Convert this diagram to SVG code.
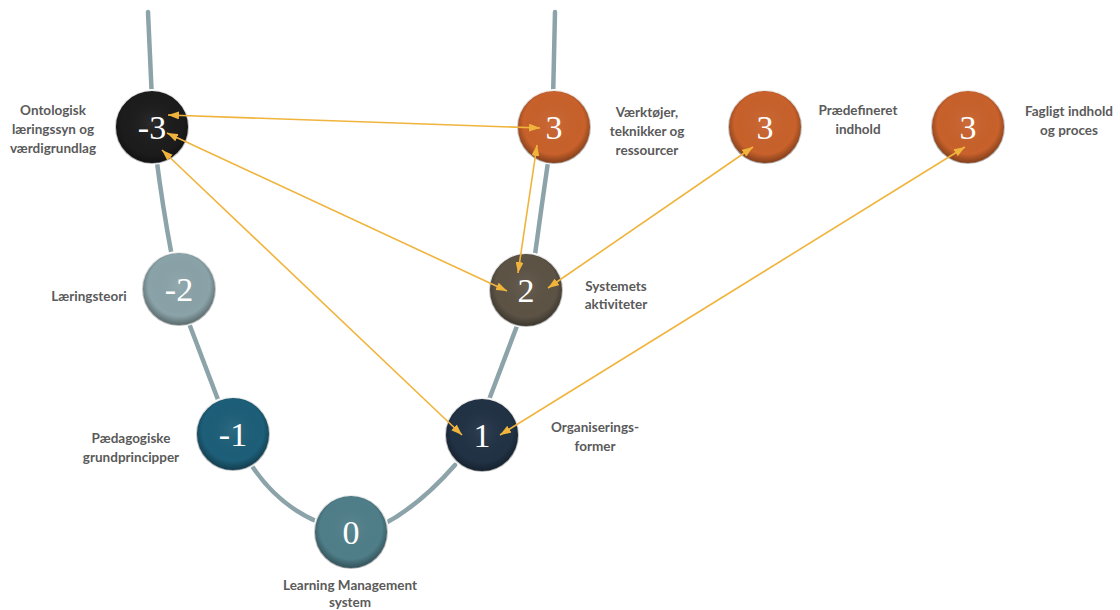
<svg xmlns="http://www.w3.org/2000/svg" width="1120" height="610" viewBox="0 0 1120 610">
<style>
.track{fill:none;stroke:#8ca3a9;stroke-width:4.5;stroke-linecap:round}
.node{stroke:#ffffff;stroke-width:2}
.shade{fill:url(#shade)}
.num{font-family:"Liberation Serif","Times New Roman",serif;font-size:34px;fill:#ffffff;text-anchor:middle}
.lbl{font-family:Lato,"Liberation Sans",sans-serif;font-weight:700;font-size:13.5px;fill:#5a5a5a;text-anchor:middle}
.con{fill:none;stroke:#f0b43c;stroke-width:1.6;marker-start:url(#ah);marker-end:url(#ah)}
</style>
<defs>
<radialGradient id="shade" cx="50%" cy="45%" r="52%">
<stop offset="0" stop-color="#ffffff" stop-opacity="0.07"/>
<stop offset="0.8" stop-color="#000000" stop-opacity="0"/>
<stop offset="1" stop-color="#000000" stop-opacity="0.3"/>
</radialGradient>
<marker id="ah" markerUnits="userSpaceOnUse" markerWidth="11" markerHeight="8" refX="11" refY="4" orient="auto-start-reverse">
<path d="M0,0 L11,4 L0,8 z" fill="#f0b43c"/>
</marker>
</defs>
<rect width="1120" height="610" fill="#ffffff"/>
<g id="track">
<path class="track" d="M148,12 L152,100"/>
<path class="track" d="M156,155 Q163,210 173,262"/>
<path class="track" d="M187,318 L220,405"/>
<path class="track" d="M252,466 Q278,505 318,522"/>
<path class="track" d="M384,524 Q420,505 455,465"/>
<path class="track" d="M487,405 L520,318"/>
<path class="track" d="M534,262 Q541,210 549,155"/>
<path class="track" d="M553,100 L555,12"/>
</g>
<g id="node-m3">
<circle class="node" cx="152" cy="127" r="37" fill="#1c1c1c"/>
<circle class="shade" cx="152" cy="127" r="37"/>
<text class="num" x="152" y="139">-3</text>
<text class="lbl" x="53" y="115">Ontologisk</text>
<text class="lbl" x="53" y="134">læringssyn og</text>
<text class="lbl" x="53" y="153">værdigrundlag</text>
</g>
<g id="node-m2">
<circle class="node" cx="179" cy="289" r="37" fill="#8aa3a8"/>
<circle class="shade" cx="179" cy="289" r="37"/>
<text class="num" x="179" y="301">-2</text>
<text class="lbl" x="89" y="301">Læringsteori</text>
</g>
<g id="node-m1">
<circle class="node" cx="233" cy="434" r="37" fill="#1d5e78"/>
<circle class="shade" cx="233" cy="434" r="37"/>
<text class="num" x="233" y="446">-1</text>
<text class="lbl" x="131" y="443">Pædagogiske</text>
<text class="lbl" x="131" y="462">grundprincipper</text>
</g>
<g id="node-0">
<circle class="node" cx="351" cy="532" r="37" fill="#4f7e89"/>
<circle class="shade" cx="351" cy="532" r="37"/>
<text class="num" x="351" y="544">0</text>
<text class="lbl" x="350" y="590">Learning Management</text>
<text class="lbl" x="350" y="607">system</text>
</g>
<g id="node-1">
<circle class="node" cx="482" cy="435" r="37" fill="#213245"/>
<circle class="shade" cx="482" cy="435" r="37"/>
<text class="num" x="482" y="447">1</text>
<text class="lbl" x="595" y="432">Organiserings-</text>
<text class="lbl" x="595" y="451">former</text>
</g>
<g id="node-2">
<circle class="node" cx="526" cy="290" r="37" fill="#5c5345"/>
<circle class="shade" cx="526" cy="290" r="37"/>
<text class="num" x="526" y="302">2</text>
<text class="lbl" x="616" y="291">Systemets</text>
<text class="lbl" x="616" y="309">aktiviteter</text>
</g>
<g id="node-3a">
<circle class="node" cx="554" cy="127" r="37" fill="#c8612b"/>
<circle class="shade" cx="554" cy="127" r="37"/>
<text class="num" x="554" y="139">3</text>
<text class="lbl" x="647" y="117">Værktøjer,</text>
<text class="lbl" x="647" y="136">teknikker og</text>
<text class="lbl" x="647" y="155">ressourcer</text>
</g>
<g id="node-3b">
<circle class="node" cx="765" cy="127" r="37" fill="#c8612b"/>
<circle class="shade" cx="765" cy="127" r="37"/>
<text class="num" x="765" y="139">3</text>
<text class="lbl" x="858" y="115">Prædefineret</text>
<text class="lbl" x="858" y="134">indhold</text>
</g>
<g id="node-3c">
<circle class="node" cx="968" cy="127" r="37" fill="#c8612b"/>
<circle class="shade" cx="968" cy="127" r="37"/>
<text class="num" x="968" y="139">3</text>
<text class="lbl" x="1069" y="116">Fagligt indhold</text>
<text class="lbl" x="1069" y="135">og proces</text>
</g>
<g id="connectors">
<line class="con" x1="168" y1="115" x2="540" y2="128"/>
<line class="con" x1="167" y1="133" x2="507" y2="291"/>
<line class="con" x1="162" y1="150" x2="462" y2="435"/>
<line class="con" x1="537" y1="145" x2="518" y2="273"/>
<line class="con" x1="753" y1="147" x2="548" y2="288"/>
<line class="con" x1="965" y1="147" x2="500" y2="435"/>
</g>
</svg>
